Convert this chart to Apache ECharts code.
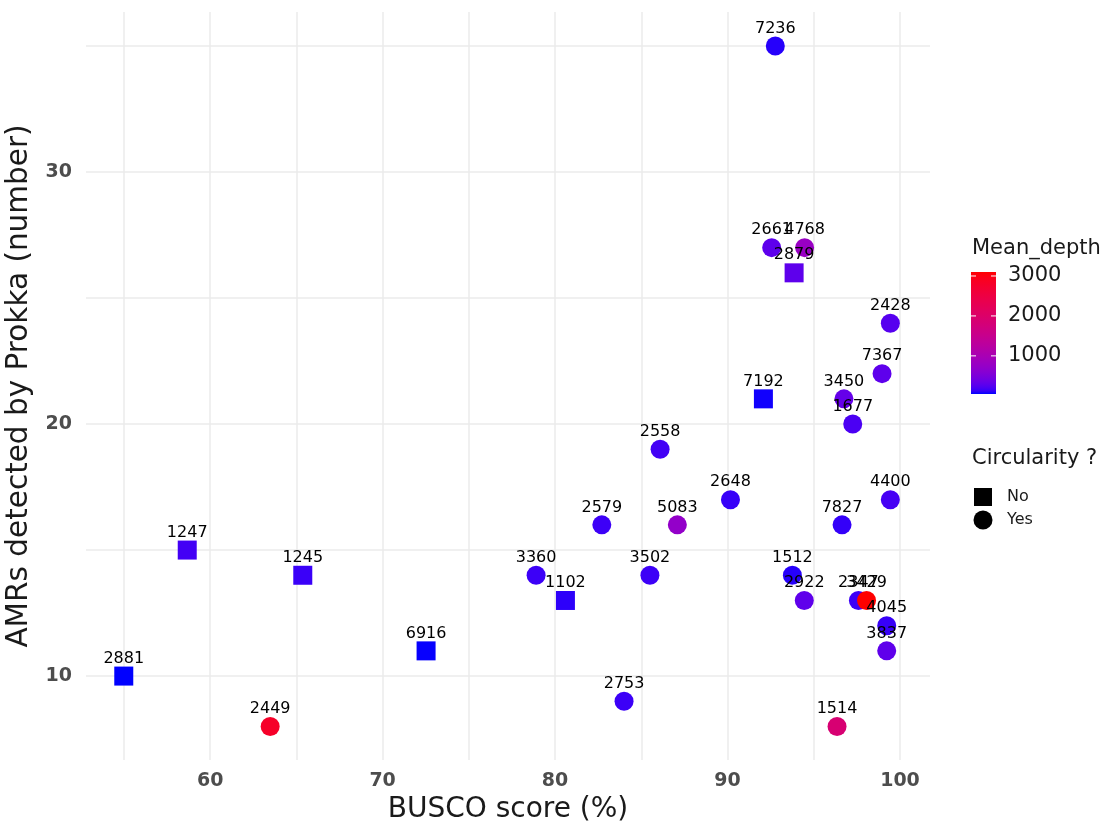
<!DOCTYPE html>
<html><head><meta charset="utf-8">
<script src="https://cdn.jsdelivr.net/npm/echarts@6/dist/echarts.min.js"></script>
<style>html,body{margin:0;padding:0;background:#fff}#c{width:1115px;height:825px}</style>
</head><body><div id="c"></div>
<script>
// ---- data ----
const ids      = ['7236','2661','4768','2879','2428','7367','7192','3450','1677','2558','2648','4400','2579','5083','7827','1247','1245','3360','3502','1512','1102','2922','2347','3429','4045','3837','6916','2881','2449','2753','1514'];
const busco    = [92.77,92.56,94.47,93.86,99.44,98.96,92.08,96.75,97.26,86.09,90.17,99.44,82.71,87.09,96.64,58.67,65.37,78.9,85.5,93.76,80.6,94.45,97.59,98.06,99.23,99.23,72.52,54.99,63.48,84.0,96.35];
const amrs     = [35,27,27,26,24,22,21,21,20,19,17,17,16,16,16,15,14,14,14,14,13,13,13,13,12,11,11,10,8,9,8];
const depth    = [100,290,800,290,250,290,70,330,200,170,130,180,150,720,120,170,140,145,150,100,110,300,150,3100,130,300,55,45,2800,145,1880];
const circular = ['Yes','Yes','Yes','No','Yes','Yes','No','Yes','Yes','Yes','Yes','Yes','Yes','Yes','Yes','No','No','Yes','Yes','Yes','No','Yes','Yes','Yes','Yes','Yes','No','No','Yes','Yes','Yes'];
const xTickLabels = [60,70,80,90,100];
const yTickLabels = [10,20,30];
const xGrid = [55,60,65,70,75,80,85,90,95,100];
const yGrid = [10,15,20,25,30,35];
const depthTicks = [1000,2000,3000];

// ---- Lab colour ramp blue -> red (like ggplot) ----
function lin(c){c/=255;return c<=0.04045?c/12.92:Math.pow((c+0.055)/1.055,2.4);}
function gam(c){c=c<=0.0031308?12.92*c:1.055*Math.pow(Math.max(c,0),1/2.4)-0.055;return Math.round(Math.max(0,Math.min(1,c))*255);}
function rgb2lab(rgb){const r=lin(rgb[0]),g=lin(rgb[1]),b=lin(rgb[2]);
  const X=(0.4124*r+0.3576*g+0.1805*b)/0.95047,Y=0.2126*r+0.7152*g+0.0722*b,Z=(0.0193*r+0.1192*g+0.9505*b)/1.08883;
  const f=t=>t>0.008856?Math.cbrt(t):7.787*t+16/116;
  const fx=f(X),fy=f(Y),fz=f(Z);return [116*fy-16,500*(fx-fy),200*(fy-fz)];}
function lab2rgb(l){const fy=(l[0]+16)/116,fx=fy+l[1]/500,fz=fy-l[2]/200;
  const fi=t=>t>0.206893?t*t*t:(t-16/116)/7.787;
  const X=fi(fx)*0.95047,Y=fi(fy),Z=fi(fz)*1.08883;
  const r=3.2406*X-1.5372*Y-0.4986*Z,g=-0.9689*X+1.8758*Y+0.0415*Z,b=0.0557*X-0.2040*Y+1.0570*Z;
  return 'rgb('+gam(r)+','+gam(g)+','+gam(b)+')';}
const labLo=rgb2lab([0,0,255]),labHi=rgb2lab([255,0,0]);
const ramp=[];const N=40;
for(let i=0;i<=N;i++){const t=i/N;ramp.push(lab2rgb([0,1,2].map(k=>labLo[k]+(labHi[k]-labLo[k])*t)));}

const dmin=Math.min(...depth),dmax=Math.max(...depth);
const rows=ids.map((id,i)=>[busco[i],amrs[i],depth[i],id,circular[i]]);
const dataNo=rows.filter(r=>r[4]==='No');
const dataYes=rows.filter(r=>r[4]==='Yes');

const FONT='DejaVu Sans';
const labelCfg={show:true,position:'top',distance:0,formatter:p=>p.data[3],fontFamily:FONT,fontSize:16,color:'#000'};

// legend geometry
const barX=971,barY=272,barW=25,barH=122;
const gy=v=>barY+barH-(v-dmin)/(dmax-dmin)*barH;
const graphics=[
  {type:'text',left:972,top:238,style:{text:'Mean_depth',font:'21px "DejaVu Sans"',fill:'#1a1a1a'}},
  {type:'rect',shape:{x:barX,y:barY,width:barW,height:barH},style:{fill:{type:'linear',x:0,y:1,x2:0,y2:0,colorStops:ramp.map((c,i)=>({offset:i/N,color:c}))}}},
  {type:'text',left:972,top:448,style:{text:'Circularity ?',font:'21px "DejaVu Sans"',fill:'#1a1a1a'}},
  {type:'rect',shape:{x:974,y:488,width:18,height:18},style:{fill:'#000'}},
  {type:'circle',shape:{cx:983,cy:520,r:9.5},style:{fill:'#000'}},
  {type:'text',x:1007,y:497,style:{text:'No',font:'16px "DejaVu Sans"',fill:'#1a1a1a',textVerticalAlign:'middle'}},
  {type:'text',x:1007,y:520,style:{text:'Yes',font:'16px "DejaVu Sans"',fill:'#1a1a1a',textVerticalAlign:'middle'}}
];
depthTicks.forEach(v=>{
  const y=gy(v);
  graphics.push({type:'line',shape:{x1:barX,y1:y,x2:barX+5,y2:y},style:{stroke:'#fff',lineWidth:1}});
  graphics.push({type:'line',shape:{x1:barX+barW-5,y1:y,x2:barX+barW,y2:y},style:{stroke:'#fff',lineWidth:1}});
  graphics.push({type:'text',x:1008,y:y,style:{text:String(v),font:'21px "DejaVu Sans"',fill:'#1a1a1a',textVerticalAlign:'middle'}});
});

const chart=echarts.init(document.getElementById('c'),null,{renderer:'canvas'});
chart.setOption({
  animation:false,
  backgroundColor:'#fff',
  grid:{left:86,right:185,top:12,bottom:65,outerBoundsMode:'none',containLabel:false},
  xAxis:{type:'value',min:52.8,max:101.74,
    axisLine:{show:false},axisTick:{show:false},splitLine:{show:false},
    axisLabel:{customValues:xTickLabels,fontFamily:FONT,fontWeight:'bold',fontSize:19,color:'#4D4D4D',margin:12},
    name:'BUSCO score (%)',nameLocation:'middle',nameGap:33,
    nameTextStyle:{fontFamily:FONT,fontSize:28,color:'#1A1A1A'}},
  yAxis:{type:'value',min:6.67,max:36.35,
    axisLine:{show:false},axisTick:{show:false},splitLine:{show:false},
    axisLabel:{customValues:yTickLabels,fontFamily:FONT,fontWeight:'bold',fontSize:19,color:'#4D4D4D',margin:14},
    name:'AMRs detected by Prokka (number)',nameLocation:'middle',nameGap:47,
    nameTextStyle:{fontFamily:FONT,fontSize:29.5,color:'#1A1A1A'}},
  visualMap:{type:'continuous',show:false,min:dmin,max:dmax,dimension:2,seriesIndex:[1,2],inRange:{color:ramp}},
  graphic:graphics,
  series:[
    {type:'scatter',data:[],silent:true,z:1,
      markLine:{silent:true,symbol:'none',animation:false,z:1,label:{show:false},
        lineStyle:{color:'#EBEBEB',width:1.5,type:'solid'},
        data:xGrid.map(v=>({xAxis:v})).concat(yGrid.map(v=>({yAxis:v})))}},
    {name:'No',type:'scatter',symbol:'rect',symbolSize:19,data:dataNo,z:10,itemStyle:{opacity:1},label:labelCfg},
    {name:'Yes',type:'scatter',symbol:'circle',symbolSize:19,data:dataYes,z:10,itemStyle:{opacity:1},label:labelCfg}
  ]
});
</script></body></html>
